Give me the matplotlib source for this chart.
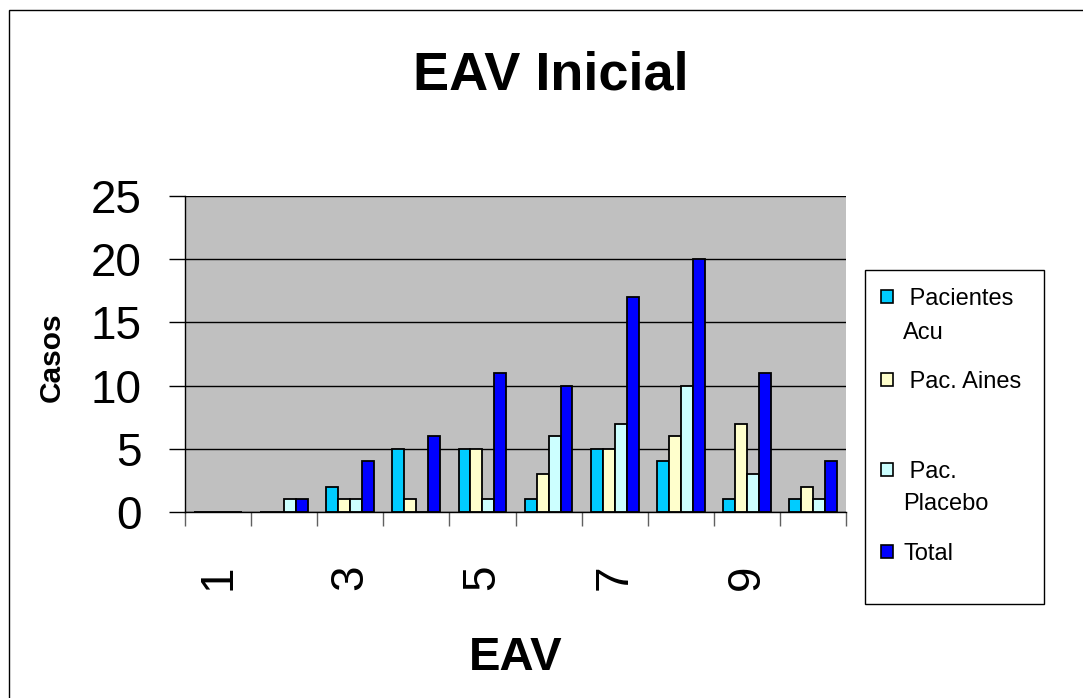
import matplotlib
matplotlib.use("Agg")
import matplotlib.pyplot as plt
from matplotlib.patches import Rectangle
import numpy as np

plt.rcParams['font.family'] = ['Liberation Sans', 'DejaVu Sans']

# ---- data -------------------------------------------------------------
categories = ['1', '2', '3', '4', '5', '6', '7', '8', '9', '10']
pacientes_acu = [0, 0, 2, 5, 5, 1, 5, 4, 1, 1]
pac_aines = [0, 0, 1, 1, 5, 3, 5, 6, 7, 2]
pac_placebo = [0, 1, 1, 0, 1, 6, 7, 10, 3, 1]
total = [0, 1, 4, 6, 11, 10, 17, 20, 11, 4]

series_names = [' Pacientes\nAcu', ' Pac. Aines', ' Pac.\nPlacebo', 'Total']
series_values = [pacientes_acu, pac_aines, pac_placebo, total]
series_colors = ['#00CCFF', '#FFFFCC', '#CCFFFF', '#0000FF']

y_ticks = [0, 5, 10, 15, 20, 25]

# ---- figure -----------------------------------------------------------
W, H = 1083, 698
fig = plt.figure(figsize=(W / 100, H / 100), dpi=100)
fig.patch.set_facecolor('white')


def fx(x):
    return x / W


def fy(y):
    return 1 - y / H


# outer chart frame
fig.patches.append(Rectangle((fx(9), fy(H + 10)), fx(W + 20), fy(10) - fy(H + 10),
                             transform=fig.transFigure, fill=False,
                             edgecolor='black', linewidth=1.0))

ax = fig.add_axes([fx(185), fy(512), fx(846) - fx(185), fy(196) - fy(512)])
ax.set_facecolor('#C0C0C0')

n = len(categories)
x = np.arange(n)
bw = 0.181
offsets = (np.arange(len(series_values)) - 1.5) * bw
for vals, color, off in zip(series_values, series_colors, offsets):
    ax.bar(x + off, vals, width=bw, color=color, edgecolor='black',
           linewidth=1.3, zorder=3)

ax.set_xlim(-0.5, n - 0.5)
ax.set_ylim(0, 25)

ax.set_yticks(y_ticks)
ax.set_yticklabels([str(v) for v in y_ticks], fontsize=33)
ax.yaxis.grid(True, color='black', linewidth=1.0, zorder=1)
ax.set_axisbelow(True)
ax.tick_params(axis='y', direction='out', length=11.5, width=1.0, pad=20)

# category labels on every other category, boundary ticks between groups
label_idx = list(range(0, n, 2))
ax.set_xticks(label_idx)
ax.set_xticklabels([categories[i] for i in label_idx], fontsize=33,
                   rotation=90)
ax.tick_params(axis='x', which='major', length=0, pad=38)
ax.set_xticks(np.arange(-0.5, n, 1.0), minor=True)
ax.tick_params(axis='x', which='minor', direction='out', length=10,
               width=1.0, color='#606060')
for lbl in ax.get_xticklabels():
    lbl.set_verticalalignment('top')

for side in ['top', 'right']:
    ax.spines[side].set_visible(False)
for side in ['left', 'bottom']:
    ax.spines[side].set_linewidth(1.0)
    ax.spines[side].set_zorder(4)

# titles
fig.text(fx(551), fy(75), 'EAV Inicial', fontsize=39, fontweight='bold',
         ha='center', va='center')
fig.text(fx(515.5), fy(658), 'EAV', fontsize=34, fontweight='bold',
         ha='center', va='center')
fig.text(fx(52), fy(357), 'Casos', fontsize=21.5, fontweight='bold',
         rotation=90, ha='center', va='center')

# legend box
fig.patches.append(Rectangle((fx(865), fy(604)), fx(1044) - fx(865),
                             fy(270) - fy(604), transform=fig.transFigure,
                             facecolor='white', edgecolor='black',
                             linewidth=1.0))
legend_rows = [[296.5, 330.5], [379.5], [469.5, 501.5], [551.5]]
cap_half = 8.5
sq = 12.6
for name, color, rows in zip(series_names, series_colors, legend_rows):
    yc = rows[0]
    fig.patches.append(Rectangle((fx(880.7), fy(yc + sq / 2)), sq / W, sq / H,
                                 transform=fig.transFigure, facecolor=color,
                                 edgecolor='black', linewidth=1.2))
    for line, yl in zip(name.split('\n'), rows):
        fig.text(fx(903), fy(yl + cap_half), line, fontsize=17,
                 ha='left', va='baseline')

fig.savefig('out.png', dpi=100)
